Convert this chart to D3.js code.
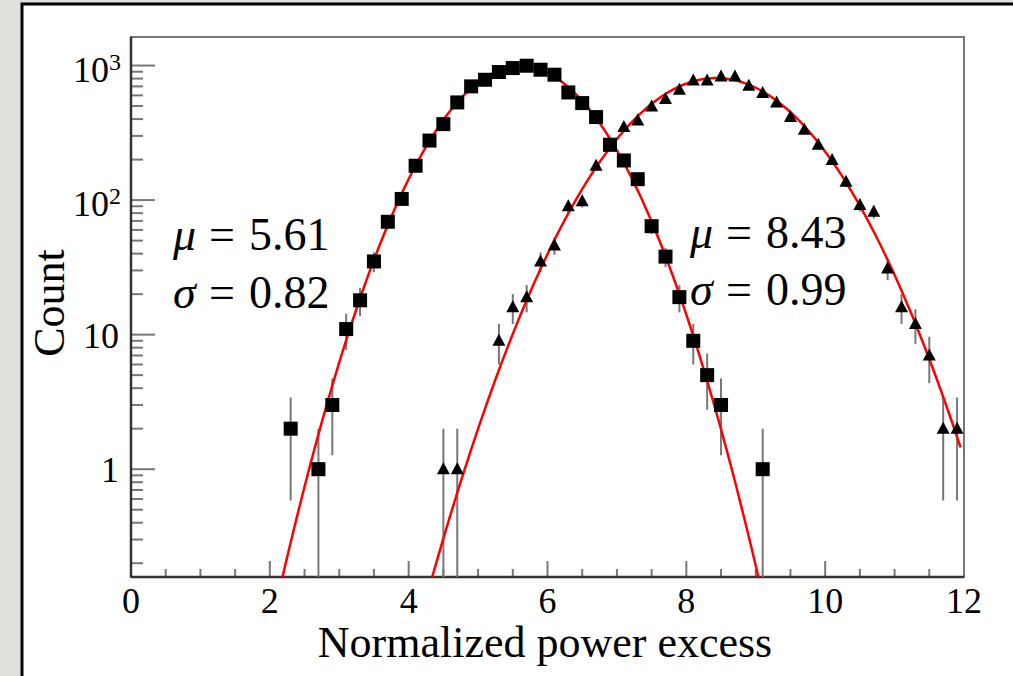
<!DOCTYPE html>
<html>
<head>
<meta charset="utf-8">
<script src="https://cdn.jsdelivr.net/npm/d3@7"></script>
<style>
  html, body { margin: 0; padding: 0; background: #dfdfdb; }
  svg { display: block; }
</style>
</head>
<body>
<svg id="chart" width="1013" height="676"></svg>
<script>
// ---- data ----
const squareX = [2.3, 2.7, 2.9, 3.1, 3.3, 3.5, 3.7, 3.9, 4.1, 4.3, 4.5, 4.7, 4.9, 5.1, 5.3, 5.5, 5.7, 5.9, 6.1, 6.3, 6.5, 6.7, 6.9, 7.1, 7.3, 7.5, 7.7, 7.9, 8.1, 8.3, 8.5, 9.1];
const squareCount = [2, 1, 3, 11, 18, 35, 69, 102, 180, 277, 367, 532, 700, 784, 895, 958, 997, 931, 855, 631, 526, 414, 258, 197, 143, 64, 38, 19, 9, 5, 3, 1];

const triangleX = [4.5, 4.7, 5.3, 5.5, 5.7, 5.9, 6.1, 6.3, 6.5, 6.7, 6.9, 7.1, 7.3, 7.5, 7.7, 7.9, 8.1, 8.3, 8.5, 8.7, 8.9, 9.1, 9.3, 9.5, 9.7, 9.9, 10.1, 10.3, 10.5, 10.7, 10.9, 11.1, 11.3, 11.5, 11.7, 11.9];
const triangleCount = [1, 1, 9, 16, 19, 35, 46, 90, 98, 180, 250, 349, 391, 497, 564, 660, 774, 774, 830, 830, 707, 625, 532, 414, 333, 258, 199, 137, 92, 82, 31, 16, 12, 7, 2, 2];

// Gaussian fit results (amplitude, mean, sigma, drawn range)
const fitAmp = [985, 807];
const fitMean = [5.61, 8.43];
const fitSigma = [0.82, 0.99];
const fitRangeLo = [0, 0];
const fitRangeHi = [12, 11.95];

const annotMu = ["5.61", "8.43"];
const annotSigma = ["0.82", "0.99"];

const xTicks = [0, 2, 4, 6, 8, 10, 12];
const yTicks = [1, 10, 100, 1000];
const yTickLabels = [["1", ""], ["10", ""], ["10", "2"], ["10", "3"]];
const xTitle = "Normalized power excess";
const yTitle = "Count";

// ---- layout ----
const FONT = "Liberation Serif, serif";
const svg = d3.select("#chart");
const L = 131, R = 964, T = 37, B = 577;

const x = d3.scaleLinear().domain([0, 12]).range([L, R]);
const y = d3.scaleLog().domain([0.158, 1630]).range([B, T]);

// pad frame
svg.append("rect").attr("x", 22).attr("y", 4).attr("width", 1100).attr("height", 800)
  .attr("fill", "#fff").attr("stroke", "#000").attr("stroke-width", 3);

svg.append("defs").append("clipPath").attr("id", "clip")
  .append("rect").attr("x", L).attr("y", T).attr("width", R - L).attr("height", B - T);

// frame (top/right)
svg.append("rect").attr("x", L).attr("y", T).attr("width", R - L).attr("height", B - T)
  .attr("fill", "none").attr("stroke", "#777").attr("stroke-width", 2);

// x axis ticks (inside)
const xMinor = d3.range(0, 12.001, 0.5).filter(v => Math.abs(v % 2) > 1e-6);
const gx = svg.append("g");
gx.selectAll("line.maj").data(xTicks).join("line")
  .attr("x1", d => x(d)).attr("x2", d => x(d)).attr("y1", B).attr("y2", B - 16)
  .attr("stroke", "#777").attr("stroke-width", 2);
gx.selectAll("line.min").data(xMinor).join("line")
  .attr("x1", d => x(d)).attr("x2", d => x(d)).attr("y1", B).attr("y2", B - 8)
  .attr("stroke", "#777").attr("stroke-width", 2);
gx.selectAll("text").data(xTicks).join("text")
  .attr("x", d => x(d)).attr("y", B + 36).attr("text-anchor", "middle")
  .style("font-family", FONT).attr("font-size", 36).text(d => d);

// y axis ticks
const yMinor = [];
[0.1, 1, 10, 100, 1000].forEach(dec => { for (let k = 2; k <= 9; k++) { const v = dec * k; if (v >= 0.158 && v <= 1630) yMinor.push(v); } });
const gy = svg.append("g");
gy.selectAll("line.maj").data(yTicks).join("line")
  .attr("x1", L).attr("x2", L + 24).attr("y1", d => y(d)).attr("y2", d => y(d))
  .attr("stroke", "#777").attr("stroke-width", 2);
gy.selectAll("line.min").data(yMinor).join("line")
  .attr("x1", L).attr("x2", L + 12).attr("y1", d => y(d)).attr("y2", d => y(d))
  .attr("stroke", "#777").attr("stroke-width", 2);
yTicks.forEach((v, i) => {
  const lab = yTickLabels[i];
  if (lab[1] === "") {
    svg.append("text").attr("x", 119).attr("y", y(v) + 13).attr("text-anchor", "end")
      .style("font-family", FONT).attr("font-size", 36).text(lab[0]);
  } else {
    const t = svg.append("text").attr("x", 121).attr("y", y(v) + 16).attr("text-anchor", "end")
      .style("font-family", FONT).attr("font-size", 36);
    t.append("tspan").text(lab[0]);
    t.append("tspan").attr("font-size", 24).attr("dy", -12).text(lab[1]);
  }
});

// axis lines
svg.append("line").attr("x1", L).attr("x2", R).attr("y1", B).attr("y2", B).attr("stroke", "#333").attr("stroke-width", 2.5);
svg.append("line").attr("x1", L).attr("x2", L).attr("y1", T).attr("y2", B).attr("stroke", "#333").attr("stroke-width", 2.5);

// titles
svg.append("text").attr("x", 545).attr("y", 657).attr("text-anchor", "middle")
  .style("font-family", FONT).attr("font-size", 44).text(xTitle);
svg.append("text").attr("transform", "translate(64,303) rotate(-90)").attr("text-anchor", "middle")
  .style("font-family", FONT).attr("font-size", 44).text(yTitle);

const plot = svg.append("g").attr("clip-path", "url(#clip)");

// error bars (sqrt N)
function errBars(xs, cs) {
  plot.append("g").selectAll("line").data(xs.map((d, i) => [d, cs[i]])).join("line")
    .attr("x1", d => x(d[0])).attr("x2", d => x(d[0]))
    .attr("y1", d => y(d[1] + Math.sqrt(d[1])))
    .attr("y2", d => { const lo = d[1] - Math.sqrt(d[1]); return lo > 0.158 ? y(lo) : B + 5; })
    .attr("stroke", "#777").attr("stroke-width", 2);
}
errBars(squareX, squareCount);
errBars(triangleX, triangleCount);

// fit curves
fitAmp.forEach((A, i) => {
  const pts = d3.range(fitRangeLo[i], fitRangeHi[i] + 1e-9, (fitRangeHi[i] - fitRangeLo[i]) / 300)
    .map(v => [v, A * Math.exp(-0.5 * Math.pow((v - fitMean[i]) / fitSigma[i], 2))])
    .filter(p => p[1] > 0.05);
  plot.append("path").datum(pts)
    .attr("d", d3.line().x(p => x(p[0])).y(p => y(p[1])))
    .attr("fill", "none").attr("stroke", "#ff0000").attr("stroke-width", 2.5);
});

// markers
plot.append("g").selectAll("rect").data(squareX.map((d, i) => [d, squareCount[i]])).join("rect")
  .attr("x", d => x(d[0]) - 7).attr("y", d => y(d[1]) - 7).attr("width", 14).attr("height", 14)
  .attr("fill", "#000");
plot.append("g").selectAll("path").data(triangleX.map((d, i) => [d, triangleCount[i]])).join("path")
  .attr("d", d => { const cx = x(d[0]), cy = y(d[1]); return `M${cx - 6.5},${cy + 5} L${cx + 6.5},${cy + 5} L${cx},${cy - 7} Z`; })
  .attr("fill", "#000");

// annotations: italic Greek symbol, "=" and the value
const annX = [173, 690];
const annY = [[250, 308], [248, 305]];
function annot(x0, y0, sym, val) {
  svg.append("text").attr("x", x0).attr("y", y0)
    .style("font-family", FONT).attr("font-size", 46).attr("font-style", "italic").text(sym);
  svg.append("text").attr("x", x0 + 36).attr("y", y0)
    .style("font-family", FONT).attr("font-size", 46).text("=");
  svg.append("text").attr("x", x0 + 76).attr("y", y0)
    .style("font-family", FONT).attr("font-size", 46).text(val);
}
annotMu.forEach((m, i) => {
  annot(annX[i], annY[i][0], "μ", m);
  annot(annX[i], annY[i][1], "σ", annotSigma[i]);
});
</script>
</body>
</html>
